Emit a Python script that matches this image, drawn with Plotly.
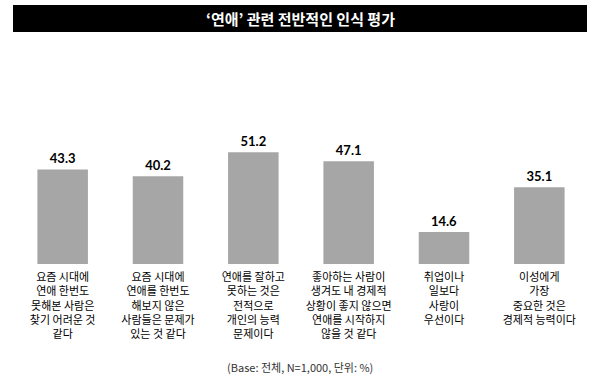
import plotly.graph_objects as go

categories = [
    "요즘 시대에<br>연애 한번도<br>못해본 사람은<br>찾기 어려운 것<br>같다",
    "요즘 시대에<br>연애를 한번도<br>해보지 않은<br>사람들은 문제가<br>있는 것 같다",
    "연애를 잘하고<br>못하는 것은<br>전적으로<br>개인의 능력<br>문제이다",
    "좋아하는 사람이<br>생겨도 내 경제적<br>상황이 좋지 않으면<br>연애를 시작하지<br>않을 것 같다",
    "취업이나<br>일보다<br>사랑이<br>우선이다",
    "이성에게<br>가장<br>중요한 것은<br>경제적 능력이다",
]
values = [43.3, 40.2, 51.2, 47.1, 14.6, 35.1]
title_text = "‘연애’ 관련 전반적인 인식 평가"
note_text = "(Base: 전체, N=1,000, 단위: %)"

KFONT = "Noto Sans CJK KR"
W, H = 600, 384
ML, MR, MT, MB = 15, 13, 133, 120
ph = H - MT - MB

def py(pix):
    return (H - MB - pix) / ph

fig = go.Figure()
fig.add_trace(go.Bar(
    x=list(range(len(values))),
    y=values,
    marker=dict(color="#a6a6a6", line=dict(width=0)),
    text=[f"{v:.1f}" for v in values],
    textposition="outside",
    textfont=dict(family="Lato", size=13, color="#000000", weight="bold"),
    cliponaxis=False,
    width=0.53,
    hoverinfo="skip",
))

fig.update_layout(
    width=W, height=H,
    margin=dict(l=ML, r=MR, t=MT, b=MB),
    paper_bgcolor="white", plot_bgcolor="white",
    showlegend=False,
    font=dict(family=KFONT, color="#000000"),
    xaxis=dict(
        tickmode="array",
        tickvals=list(range(len(values))),
        ticktext=categories,
        tickangle=0,
        showgrid=False, zeroline=False, showline=False,
        ticks="", tickfont=dict(family=KFONT, size=11, color="#000000"),
        ticklabelstandoff=5,
        range=[-0.5, len(values) - 0.5],
        automargin=False,
    ),
    yaxis=dict(range=[0, 60], visible=False, showgrid=False, zeroline=False),
    shapes=[dict(
        type="rect", xref="paper", yref="paper",
        x0=(13 - ML) / (W - ML - MR), x1=(587 - ML) / (W - ML - MR),
        y0=py(32), y1=py(5),
        fillcolor="#000000", line=dict(width=0),
    )],
    annotations=[
        dict(text=title_text, xref="paper", yref="paper",
             x=(300 - ML) / (W - ML - MR), y=py(18.5), xanchor="center", yanchor="middle",
             showarrow=False, font=dict(family=KFONT, size=15, color="#ffffff", weight="bold")),
        dict(text=note_text, xref="paper", yref="paper",
             x=(300 - ML) / (W - ML - MR), y=py(367), xanchor="center", yanchor="middle",
             showarrow=False, font=dict(family=KFONT, size=11, color="#333333")),
    ],
)

fig.write_html("out.html", config={"displayModeBar": False},
               post_script="document.body.style.margin='0px';document.body.style.overflow='hidden';")
